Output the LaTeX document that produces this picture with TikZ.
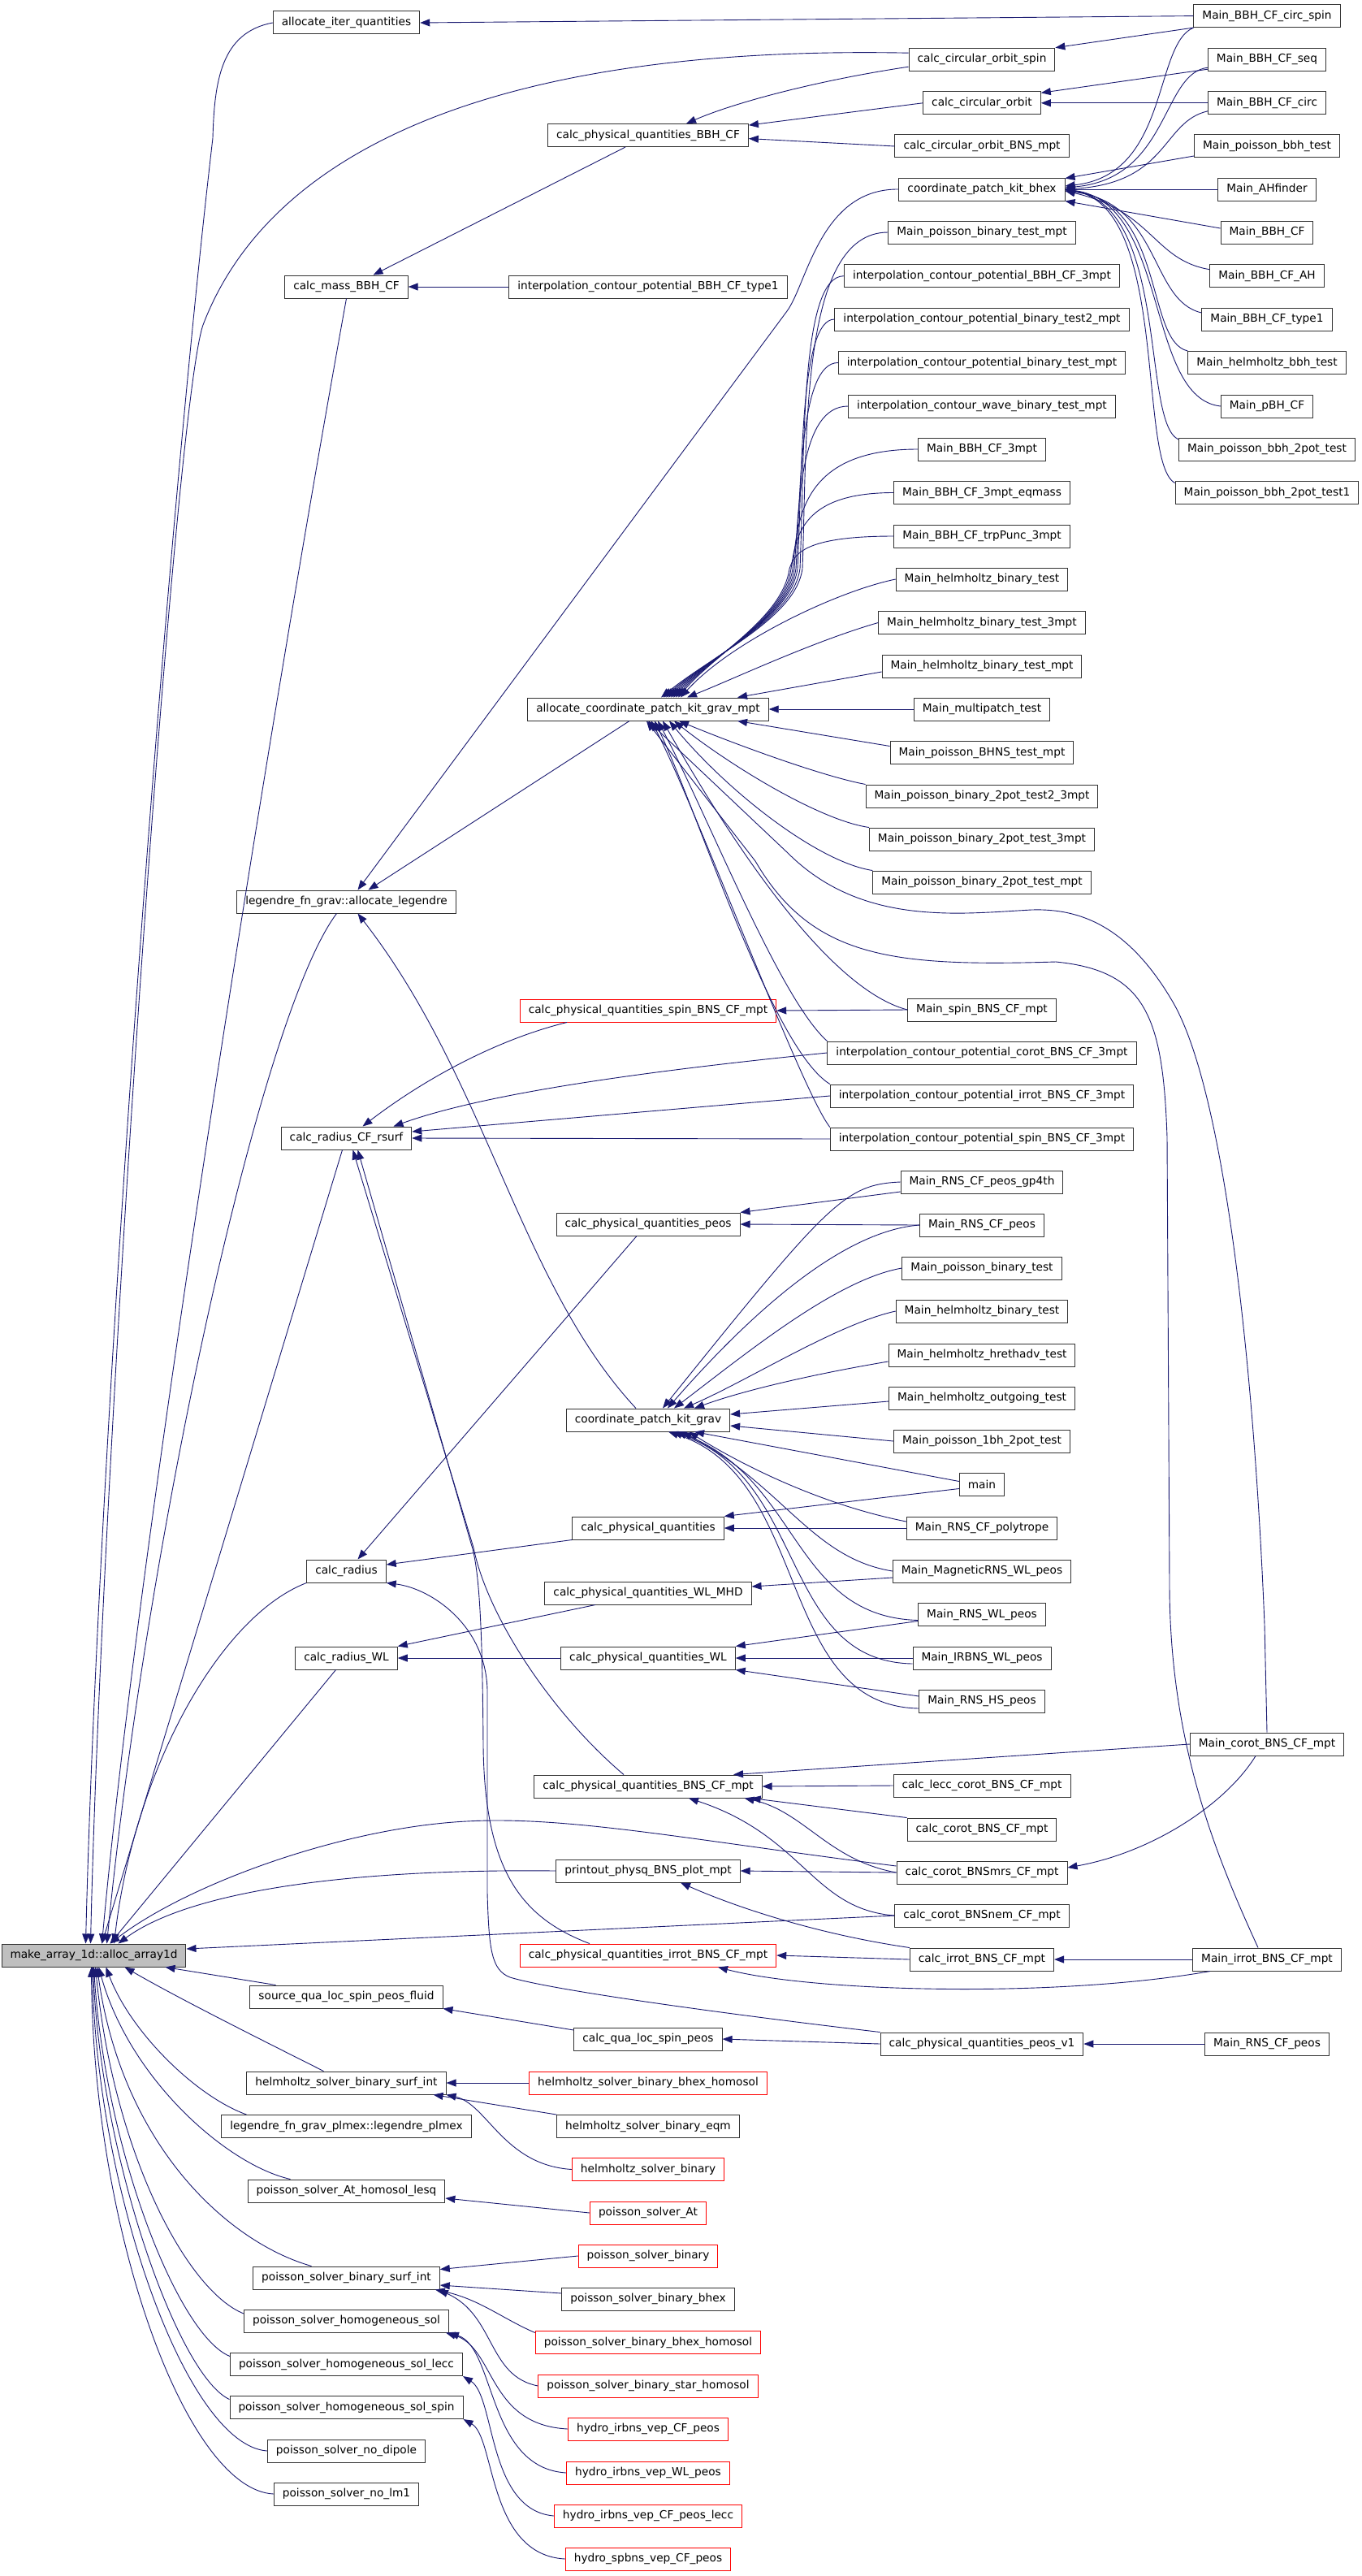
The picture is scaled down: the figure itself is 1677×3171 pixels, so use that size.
\documentclass[tikz,border=0pt]{standalone}
\usepackage{fontspec}
\setmainfont{DejaVu Sans}
\usetikzlibrary{arrows.meta}
\definecolor{edgec}{HTML}{191970}
\begin{document}
\begin{tikzpicture}[x=1pt,y=-1pt,
  box/.style={draw=black!80, line width=1pt, fill=white, minimum height=28pt, inner xsep=10.5pt, inner ysep=0pt, font=\fontsize{13.7pt}{16pt}\selectfont},
  redbox/.style={box, draw=red},
  e/.style={draw=edgec, line width=0.9pt, -{Triangle[length=12pt,width=9pt]}}]
\useasboundingbox (0,0) rectangle (1677,3171);
\fill[white] (0,0) rectangle (1677,3171);
\coordinate (xj) at (985,0);
% column 0
\node[box, fill=black!25] (A0) at (115.5,2407) {make\_array\_1d::alloc\_array1d};
% column 1
\node[box] (aiq) at (426.5,28) {allocate\_iter\_quantities};
\node[box] (cmass) at (426.5,353) {calc\_mass\_BBH\_CF};
\node[box] (aleg) at (426.5,1110) {legendre\_fn\_grav::allocate\_legendre};
\node[box] (rsurf) at (426.5,1401) {calc\_radius\_CF\_rsurf};
\node[box] (crad) at (426.5,1934) {calc\_radius};
\node[box] (cradwl) at (426.5,2041) {calc\_radius\_WL};
\node[box] (sqlf) at (426.5,2458) {source\_qua\_loc\_spin\_peos\_fluid};
\node[box] (hsbsi) at (426.5,2564) {helmholtz\_solver\_binary\_surf\_int};
\node[box] (lplm) at (426.5,2617.5) {legendre\_fn\_grav\_plmex::legendre\_plmex};
\node[box] (psah) at (426.5,2697) {poisson\_solver\_At\_homosol\_lesq};
\node[box] (psbsi) at (426.5,2804) {poisson\_solver\_binary\_surf\_int};
\node[box] (pshs) at (426.5,2857) {poisson\_solver\_homogeneous\_sol};
\node[box] (pshsl) at (426.5,2910.5) {poisson\_solver\_homogeneous\_sol\_lecc};
\node[box] (pshss) at (426.5,2963.5) {poisson\_solver\_homogeneous\_sol\_spin};
\node[box] (psnd) at (426.5,3017) {poisson\_solver\_no\_dipole};
\node[box] (psnl) at (426.5,3070) {poisson\_solver\_no\_lm1};
% column 2
\node[box] (cpqbbh) at (798,166.6) {calc\_physical\_quantities\_BBH\_CF};
\node[box] (icpt1) at (798,353) {interpolation\_contour\_potential\_BBH\_CF\_type1};
\node[box] (acpkgm) at (798,873) {allocate\_coordinate\_patch\_kit\_grav\_mpt};
\node[redbox] (cpqspin) at (798,1244) {calc\_physical\_quantities\_spin\_BNS\_CF\_mpt};
\node[box] (cpqpeos) at (798,1507) {calc\_physical\_quantities\_peos};
\node[box] (cpkg) at (798,1748) {coordinate\_patch\_kit\_grav};
\node[box] (cpq) at (798,1881) {calc\_physical\_quantities};
\node[box] (cpqmhd) at (798,1961) {calc\_physical\_quantities\_WL\_MHD};
\node[box] (cpqwl) at (798,2041) {calc\_physical\_quantities\_WL};
\node[box] (cpqbns) at (798,2199) {calc\_physical\_quantities\_BNS\_CF\_mpt};
\node[box] (prt) at (798,2303) {printout\_physq\_BNS\_plot\_mpt};
\node[redbox] (cpqirrot) at (798,2407) {calc\_physical\_quantities\_irrot\_BNS\_CF\_mpt};
\node[box] (cqls) at (798,2510) {calc\_qua\_loc\_spin\_peos};
\node[redbox] (hsbbh) at (798,2564) {helmholtz\_solver\_binary\_bhex\_homosol};
\node[box] (hsbe) at (798,2617.5) {helmholtz\_solver\_binary\_eqm};
\node[redbox] (hsb) at (798,2670.5) {helmholtz\_solver\_binary};
\node[redbox] (psat) at (798,2724) {poisson\_solver\_At};
\node[redbox] (psb) at (798,2777) {poisson\_solver\_binary};
\node[box] (psbb) at (798,2830) {poisson\_solver\_binary\_bhex};
\node[redbox] (psbbh) at (798,2883.5) {poisson\_solver\_binary\_bhex\_homosol};
\node[redbox] (psbsh) at (798,2937) {poisson\_solver\_binary\_star\_homosol};
\node[redbox] (hicf) at (798,2990) {hydro\_irbns\_vep\_CF\_peos};
\node[redbox] (hiwl) at (798,3044) {hydro\_irbns\_vep\_WL\_peos};
\node[redbox] (hicfl) at (798,3097) {hydro\_irbns\_vep\_CF\_peos\_lecc};
\node[redbox] (hsp) at (798,3150) {hydro\_spbns\_vep\_CF\_peos};
% column 3
\node[box] (ccos) at (1209,73.2) {calc\_circular\_orbit\_spin};
\node[box] (cco) at (1209,126.8) {calc\_circular\_orbit};
\node[box] (ccob) at (1209,180) {calc\_circular\_orbit\_BNS\_mpt};
\node[box] (cpkb) at (1209,233) {coordinate\_patch\_kit\_bhex};
\node[box] (mpbtm) at (1209,286) {Main\_poisson\_binary\_test\_mpt};
\node[box] (icbbh3) at (1209,339.7) {interpolation\_contour\_potential\_BBH\_CF\_3mpt};
\node[box] (icbt2) at (1209,393) {interpolation\_contour\_potential\_binary\_test2\_mpt};
\node[box] (icbt) at (1209,446.5) {interpolation\_contour\_potential\_binary\_test\_mpt};
\node[box] (icwbt) at (1209,500) {interpolation\_contour\_wave\_binary\_test\_mpt};
\node[box] (mbbh3) at (1209,553) {Main\_BBH\_CF\_3mpt};
\node[box] (mbbh3e) at (1209,606.5) {Main\_BBH\_CF\_3mpt\_eqmass};
\node[box] (mbbhtp) at (1209,660) {Main\_BBH\_CF\_trpPunc\_3mpt};
\node[box] (mhbt1) at (1209,713) {Main\_helmholtz\_binary\_test};
\node[box] (mhbt3) at (1209,766.5) {Main\_helmholtz\_binary\_test\_3mpt};
\node[box] (mhbtm) at (1209,820) {Main\_helmholtz\_binary\_test\_mpt};
\node[box] (mmt) at (1209,873) {Main\_multipatch\_test};
\node[box] (mpbhns) at (1209,926.5) {Main\_poisson\_BHNS\_test\_mpt};
\node[box] (mp2t23) at (1209,980) {Main\_poisson\_binary\_2pot\_test2\_3mpt};
\node[box] (mp2t3) at (1209,1033) {Main\_poisson\_binary\_2pot\_test\_3mpt};
\node[box] (mp2tm) at (1209,1086) {Main\_poisson\_binary\_2pot\_test\_mpt};
\node[box] (msbns) at (1209,1243) {Main\_spin\_BNS\_CF\_mpt};
\node[box] (iccorot) at (1209,1296) {interpolation\_contour\_potential\_corot\_BNS\_CF\_3mpt};
\node[box] (icirrot) at (1209,1349) {interpolation\_contour\_potential\_irrot\_BNS\_CF\_3mpt};
\node[box] (icspin) at (1209,1402) {interpolation\_contour\_potential\_spin\_BNS\_CF\_3mpt};
\node[box] (mrnsg) at (1209,1455) {Main\_RNS\_CF\_peos\_gp4th};
\node[box] (mrnsp) at (1209,1508) {Main\_RNS\_CF\_peos};
\node[box] (mpbt) at (1209,1561) {Main\_poisson\_binary\_test};
\node[box] (mhbt2) at (1209,1614) {Main\_helmholtz\_binary\_test};
\node[box] (mhht) at (1209,1668) {Main\_helmholtz\_hrethadv\_test};
\node[box] (mhot) at (1209,1721) {Main\_helmholtz\_outgoing\_test};
\node[box] (mp1b) at (1209,1774) {Main\_poisson\_1bh\_2pot\_test};
\node[box] (mainn) at (1209,1827.5) {main};
\node[box] (mrnspoly) at (1209,1881) {Main\_RNS\_CF\_polytrope};
\node[box] (mmrns) at (1209,1934) {Main\_MagneticRNS\_WL\_peos};
\node[box] (mrnswl) at (1209,1987.5) {Main\_RNS\_WL\_peos};
\node[box] (mirbns) at (1209,2041) {Main\_IRBNS\_WL\_peos};
\node[box] (mrnshs) at (1209,2094) {Main\_RNS\_HS\_peos};
\node[box] (clcorot) at (1209,2198) {calc\_lecc\_corot\_BNS\_CF\_mpt};
\node[box] (ccorot) at (1209,2252) {calc\_corot\_BNS\_CF\_mpt};
\node[box] (ccmrs) at (1209,2305) {calc\_corot\_BNSmrs\_CF\_mpt};
\node[box] (ccnem) at (1209,2358) {calc\_corot\_BNSnem\_CF\_mpt};
\node[box] (cirrot) at (1209,2412) {calc\_irrot\_BNS\_CF\_mpt};
\node[box] (cpqv1) at (1209,2516) {calc\_physical\_quantities\_peos\_v1};
% column 4
\node[box] (mbcs) at (1560,19.6) {Main\_BBH\_CF\_circ\_spin};
\node[box] (mbseq) at (1560,73.2) {Main\_BBH\_CF\_seq};
\node[box] (mbcirc) at (1560,126.8) {Main\_BBH\_CF\_circ};
\node[box] (mpbbh) at (1560,180) {Main\_poisson\_bbh\_test};
\node[box] (mahf) at (1560,233) {Main\_AHfinder};
\node[box] (mbbh) at (1560,286) {Main\_BBH\_CF};
\node[box] (mbah) at (1560,339.7) {Main\_BBH\_CF\_AH};
\node[box] (mbt1) at (1560,393) {Main\_BBH\_CF\_type1};
\node[box] (mhbbh) at (1560,446.5) {Main\_helmholtz\_bbh\_test};
\node[box] (mpbh) at (1560,500) {Main\_pBH\_CF};
\node[box] (mpb2) at (1560,553) {Main\_poisson\_bbh\_2pot\_test};
\node[box] (mpb21) at (1560,606.5) {Main\_poisson\_bbh\_2pot\_test1};
\node[box] (mcorot) at (1560,2147) {Main\_corot\_BNS\_CF\_mpt};
\node[box] (mirrot) at (1560,2412) {Main\_irrot\_BNS\_CF\_mpt};
\node[box] (mrnsp2) at (1560,2516) {Main\_RNS\_CF\_peos};

% ---------- edges: top area
\draw[e] (mbcs.west) -- (aiq.east);
\draw[e] ([yshift=8pt]ccos.west) .. controls (600,55) and (330,190) .. (250,400) .. controls (215,500) and (125,1800) .. ([xshift=-4pt]A0.north);
\draw[e] (aiq.west) .. controls (272,40) and (264,100) .. (262,170) .. controls (200,700) and (120,1800) .. ([xshift=-10pt]A0.north);
\draw[e] ([yshift=-9pt]ccos.west) .. controls (1000,100) and (900,128) .. ([xshift=47pt]cpqbbh.north);
\draw[e] (mbcs.south west) -- (ccos.north east);
\draw[e] (cco.west) -- ([yshift=-2pt]cpqbbh.north east);
\draw[e] (ccob.west) -- ([yshift=-4pt]cpqbbh.east);
\draw[e] ([yshift=-12pt]mbseq.west) -- ([yshift=-2pt]cco.north east);
\draw[e] (mbcirc.west) -- (cco.east);
\draw[e] ([xshift=-28pt]cpqbbh.south) -- ([xshift=33pt]cmass.north);
\draw[e] (icpt1.west) -- (cmass.east);
\draw[e] (cmass.south) .. controls (330,900) and (170,1900) .. ([xshift=10pt]A0.north);
% coordinate_patch_kit_bhex
\draw[e] (mbcs.south west) .. controls (1420,55) and (1440,215) .. ([yshift=4pt]cpkb.east);
\draw[e] ([yshift=-10pt]mbseq.west) .. controls (1430,90) and (1440,220) .. ([yshift=2pt]cpkb.east);
\draw[e] ([yshift=-10pt]mbcirc.west) .. controls (1430,150) and (1440,225) .. (cpkb.east);
\draw[e] ([yshift=-12pt]mpbbh.west) -- ([yshift=-1pt]cpkb.north east);
\draw[e] (mahf.west) -- (cpkb.east);
\draw[e] ([yshift=5pt]mbbh.west) -- (cpkb.south east);
\draw[e] ([yshift=8pt]mbah.west) .. controls (1420,320) and (1420,260) .. ([yshift=-2pt]cpkb.east);
\draw[e] ([yshift=8pt]mbt1.west) .. controls (1415,370) and (1430,250) .. ([yshift=-2pt]cpkb.east);
\draw[e] (mhbbh.north west) .. controls (1410,420) and (1435,250) .. ([yshift=-1pt]cpkb.east);
\draw[e] (mpbh.west) .. controls (1410,490) and (1440,250) .. (cpkb.east);
\draw[e] ([yshift=12pt]mpb2.west) .. controls (1405,520) and (1440,255) .. (cpkb.east);
\draw[e] ([yshift=12pt]mpb21.west) .. controls (1400,570) and (1440,255) .. (cpkb.east);
% allocate_legendre
\draw[e] (cpkb.west) .. controls (1010,232) and (994,349) .. (969,383) -- ([xshift=14pt]aleg.north);
\draw[e] ([xshift=-23pt]acpkgm.south) -- ([xshift=27pt]aleg.north);
\draw[e] ([xshift=-15pt]cpkg.north) .. controls (640,1580) and (600,1330) .. ([xshift=14pt]aleg.south);
\draw[e] ([xshift=-12pt]aleg.south) .. controls (320,1250) and (180,1900) .. ([xshift=16pt]A0.north);
% allocate_coordinate_patch_kit_grav_mpt, group from above
\foreach \n/\s/\cy/\jx in {mpbtm/16/534/988, icbbh3/19/556/985, icbt2/22/577/982, icbt/25/598/980, icwbt/28/620/978, mbbh3/31/641/976, mbbh3e/34/662/974, mbbhtp/37/684/972}{
  \draw[e] (\n.west) .. controls (\n.west -| xj) and (\jx+6,\cy) .. (\jx,700) .. controls (\jx-8,760) and (880,805) .. ([xshift=\s pt]acpkgm.north);
}
\draw[e] (mhbt1.west) .. controls (1030,728) and (900,790) .. ([xshift=40pt]acpkgm.north);
\draw[e] (mhbt3.west) .. controls (1000,790) and (905,835) .. ([xshift=48pt]acpkgm.north);
\draw[e] ([yshift=-7pt]mhbtm.west) -- ([xshift=110pt]acpkgm.north);
\draw[e] (mmt.west) -- (acpkgm.east);
\draw[e] ([yshift=8pt]mpbhns.west) -- ([xshift=110pt]acpkgm.south);
\draw[e] (mp2t23.north west) .. controls (1010,955) and (900,914) .. ([xshift=38pt]acpkgm.south);
\draw[e] (mp2t3.north west) .. controls (1010,1010) and (900,943) .. ([xshift=32pt]acpkgm.south);
\draw[e] (mp2tm.north west) .. controls (1010,1062) and (900,979) .. ([xshift=26pt]acpkgm.south);
\draw[e] (msbns.west) .. controls (1010,1215) and (880,1000) .. ([xshift=18pt]acpkgm.south);
\draw[e] (iccorot.north west) .. controls (960,1230) and (870,1000) .. ([xshift=12pt]acpkgm.south);
\draw[e] (icirrot.north west) .. controls (950,1290) and (860,1000) .. ([xshift=8pt]acpkgm.south);
\draw[e] (icspin.north west) .. controls (985,1340) and (860,1000) .. ([xshift=4pt]acpkgm.south);
\draw[e] ([xshift=-11pt]mirrot.north) .. controls (1500,2290) and (1440,2150) .. (1440,1950) -- (1437,1400) .. controls (1432,1250) and (1410,1195) .. (1300,1184) .. controls (1100,1190) and (1000,1180) .. (930,1060) -- ([xshift=-2pt]acpkgm.south);
\draw[e] (mcorot.north) -- (1557,2000) .. controls (1545,1700) and (1510,1350) .. (1445,1235) .. controls (1390,1140) and (1330,1118) .. (1270,1120) .. controls (1180,1125) and (1060,1140) .. (970,1050) -- ([xshift=0pt]acpkgm.south);
% calc_radius_CF_rsurf
\draw[e] (msbns.west) -- (cpqspin.east);
\draw[e] ([xshift=-100pt]cpqspin.south) .. controls (610,1280) and (520,1330) .. ([xshift=20pt]rsurf.north);
\draw[e] (iccorot.west) .. controls (800,1318) and (600,1345) .. ([xshift=58pt]rsurf.north);
\draw[e] (icirrot.west) -- ([yshift=8pt]rsurf.east);
\draw[e] (icspin.west) -- (rsurf.east);
\draw[e] ([xshift=-30pt]cpqbns.north) .. controls (680,2110) and (600,1990) .. (583,1905) -- ([xshift=8pt]rsurf.south);
\draw[e] ([xshift=-72pt]cpqirrot.north) .. controls (640,2360) and (597,2300) .. (595,2150) .. controls (594,2000) and (590,1930) .. (580,1900) -- ([xshift=14pt]rsurf.south);
\draw[e] ([xshift=-5pt]rsurf.south) -- ([xshift=10pt]A0.north);
% peos / radius
\draw[e] ([yshift=-12pt]mrnsg.west) -- (cpqpeos.north east);
\draw[e] (mrnsp.west) -- (cpqpeos.east);
\draw[e] ([xshift=-14pt]cpqpeos.south) -- ([xshift=14pt]crad.north);
\draw[e] (cpq.south west) -- ([yshift=8pt]crad.east);
\draw[e] (cpqv1.north west) .. controls (900,2480) and (680,2450) .. (628,2434) .. controls (605,2425) and (602,2400) .. (600,2330) -- (600,2080) .. controls (598,2000) and (530,1955) .. (crad.south east);
% coordinate_patch_kit_grav
\draw[e] (mrnsg.west) .. controls (1040,1458) and (1020,1480) .. ([xshift=18pt]cpkg.north);
\draw[e] (mrnsp.west) .. controls (1040,1515) and (930,1610) .. ([xshift=24pt]cpkg.north);
\draw[e] (mpbt.west) .. controls (1030,1575) and (920,1665) .. ([xshift=32pt]cpkg.north);
\draw[e] (mhbt2.west) .. controls (1030,1630) and (920,1700) .. ([xshift=44pt]cpkg.north);
\draw[e] ([yshift=-8pt]mhht.west) .. controls (1010,1690) and (920,1710) .. ([xshift=57pt]cpkg.north);
\draw[e] ([yshift=-4pt]mhot.west) -- ([yshift=7pt]cpkg.east);
\draw[e] (mp1b.west) -- ([yshift=-7pt]cpkg.east);
\draw[e] ([yshift=4pt]mainn.west) -- ([xshift=57pt]cpkg.south);
\draw[e] ([yshift=8pt]mrnspoly.west) .. controls (1000,1850) and (900,1795) .. ([xshift=50pt]cpkg.south);
\draw[e] (mmrns.west) .. controls (1000,1918) and (965,1830) .. ([xshift=42pt]cpkg.south);
\draw[e] ([yshift=-7pt]mrnswl.west) .. controls (975,1990) and (985,1820) .. ([xshift=35pt]cpkg.south);
\draw[e] ([yshift=-7pt]mirbns.west) .. controls (960,2045) and (995,1820) .. ([xshift=30pt]cpkg.south);
\draw[e] ([yshift=-9pt]mrnshs.west) .. controls (955,2100) and (1000,1820) .. ([xshift=25pt]cpkg.south);
% calc_physical_quantities family
\draw[e] ([yshift=-5pt]mainn.west) -- (cpq.north east);
\draw[e] (mrnspoly.west) -- (cpq.east);
\draw[e] ([yshift=-8pt]mmrns.west) -- ([yshift=8pt]cpqmhd.east);
\draw[e] ([xshift=-65pt]cpqmhd.south) -- (cradwl.north east);
\draw[e] (cpqwl.west) -- (cradwl.east);
\draw[e] ([yshift=-8pt]mrnswl.west) -- (cpqwl.north east);
\draw[e] (mirbns.west) -- (cpqwl.east);
\draw[e] ([yshift=6pt]mrnshs.west) -- (cpqwl.south east);
\draw[e] ([xshift=-13pt]cradwl.south) -- ([xshift=20pt]A0.north);
\draw[e] (crad.south west) .. controls (270,1990) and (165,2180) .. ([xshift=25pt]A0.north);
% BNS
\draw[e] (mcorot.west) -- ([xshift=105pt]cpqbns.north);
\draw[e] (clcorot.west) -- (cpqbns.east);
\draw[e] (ccorot.north west) -- ([xshift=-14pt]cpqbns.south east);
\draw[e] (ccmrs.west) .. controls (1020,2290) and (990,2230) .. ([xshift=-22pt]cpqbns.south east);
\draw[e] (ccnem.west) .. controls (1000,2350) and (990,2260) .. ([xshift=50pt]cpqbns.south);
\draw[e] (ccmrs.west) -- (prt.east);
\draw[e] (cirrot.north west) .. controls (1000,2380) and (900,2345) .. ([xshift=40pt]prt.south);
\draw[e] (cirrot.west) -- (cpqirrot.east);
\draw[e] ([xshift=-70pt]mirrot.south) .. controls (1300,2460) and (1000,2452) .. ([xshift=86pt]cpqirrot.south);
\draw[e] ([xshift=-14pt]mcorot.south) .. controls (1510,2220) and (1420,2280) .. ([yshift=6pt]ccmrs.east);
\draw[e] (mirrot.west) -- (cirrot.east);
\draw[e] (mrnsp2.west) -- (cpqv1.east);
\draw[e] (cpqv1.west) -- (cqls.east);
\draw[e] ([yshift=11pt]cqls.west) -- (sqlf.south east);
\draw[e] (prt.west) .. controls (420,2300) and (230,2330) .. ([xshift=30pt]A0.north);
\draw[e] ([yshift=8pt]ccmrs.west) .. controls (850,2265) and (700,2235) .. (574,2242) .. controls (420,2250) and (230,2320) .. ([xshift=20pt]A0.north);
\draw[e] (ccnem.west) -- ([yshift=8pt]A0.east);
% lower solvers
\draw[e] ([xshift=-87pt]sqlf.north) -- ([xshift=88pt]A0.south);
\draw[e] ([xshift=-28pt]hsbsi.north) .. controls (320,2510) and (220,2460) .. ([xshift=38pt]A0.south);
\draw[e] ([xshift=-123pt]lplm.north) .. controls (240,2580) and (160,2500) .. ([xshift=15pt]A0.south);
\draw[e] ([xshift=-69pt]psah.north) .. controls (280,2665) and (160,2560) .. ([xshift=6pt]A0.south);
\draw[e] ([xshift=-43pt]psbsi.north) .. controls (280,2760) and (150,2640) .. ([xshift=4pt]A0.south);
\draw[e] ([yshift=9pt]pshs.west) .. controls (230,2820) and (140,2650) .. ([xshift=2pt]A0.south);
\draw[e] ([yshift=10pt]pshsl.west) .. controls (220,2875) and (130,2650) .. (A0.south);
\draw[e] ([yshift=10pt]pshss.west) .. controls (220,2925) and (125,2660) .. ([xshift=-1pt]A0.south);
\draw[e] (psnd.west) .. controls (230,3010) and (120,2700) .. ([xshift=-2pt]A0.south);
\draw[e] (psnl.west) .. controls (230,3065) and (115,2750) .. ([xshift=-3pt]A0.south);
\draw[e] (hsbbh.west) -- (hsbsi.east);
\draw[e] (hsbe.north west) -- ([xshift=-16pt]hsbsi.south east);
\draw[e] (hsb.west) .. controls (620,2665) and (600,2590) .. (hsbsi.south east);
\draw[e] (psat.west) -- ([yshift=-9pt]psah.east);
\draw[e] (psb.west) -- ([yshift=-4pt]psbsi.north east);
\draw[e] ([yshift=7pt]psbb.west) -- ([yshift=-9pt]psbsi.east);
\draw[e] ([yshift=12pt]psbbh.west) .. controls (620,2855) and (590,2830) .. ([xshift=-6pt]psbsi.south east);
\draw[e] (psbsh.west) .. controls (600,2925) and (610,2850) .. ([xshift=-2pt]psbsi.south east);
\draw[e] (hicf.west) .. controls (600,2985) and (610,2890) .. ([xshift=-4pt]pshs.south east);
\draw[e] (hiwl.west) .. controls (600,3038) and (610,2890) .. (pshs.south east);
\draw[e] (hicfl.west) .. controls (600,3090) and (610,2950) .. (pshsl.south east);
\draw[e] (hsp.west) .. controls (600,3145) and (610,3000) .. (pshss.south east);
\end{tikzpicture}
\end{document}
